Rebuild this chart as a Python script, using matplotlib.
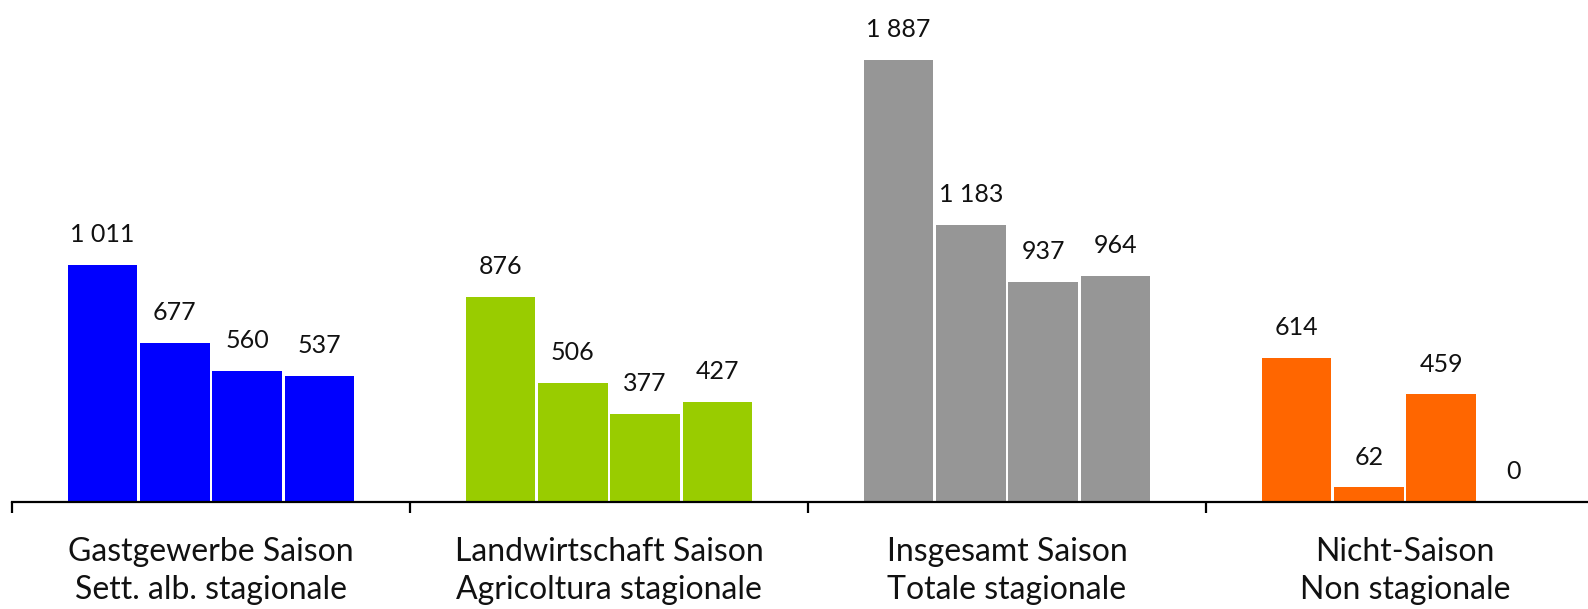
import matplotlib
matplotlib.use("Agg")
import matplotlib.pyplot as plt
import matplotlib.transforms as mtransforms
import numpy as np

categories = ["Gastgewerbe Saison\nSett. alb. stagionale",
              "Landwirtschaft Saison\nAgricoltura stagionale",
              "Insgesamt Saison\nTotale stagionale",
              "Nicht-Saison\nNon stagionale"]
values = [
    [1011, 677, 560, 537],
    [876, 506, 377, 427],
    [1887, 1183, 937, 964],
    [614, 62, 459, 0],
]
colors = ["#0000FF", "#99CC00", "#969696", "#FF6600"]

plt.rcParams['font.family'] = ['Lato', 'DejaVu Sans']

W, H = 1588, 609
fig = plt.figure(figsize=(W / 100, H / 100), dpi=100)
ax_left = 12 / W
ax_bottom = (H - 502) / H
ax = fig.add_axes([ax_left, ax_bottom, 1592 / W, 1 - ax_bottom])
ax.set_xlim(-0.5, 3.5)
ax.set_ylim(0, 2142)

slot = 0.182
bw = 0.175

def fmt(v):
    return f"{v:,}".replace(",", " ")

for i, (grp, col) in enumerate(zip(values, colors)):
    xs = i + (np.arange(4) - 1.5) * slot
    ax.bar(xs, grp, width=bw, color=col, linewidth=0, zorder=2)
    for x, v in zip(xs, grp):
        ax.annotate(fmt(v), (x, v), xytext=(0, 16.5), textcoords="offset points",
                    ha="center", va="baseline", fontsize=18, color="#111111")

for s in ["top", "right", "left"]:
    ax.spines[s].set_visible(False)
ax.spines["bottom"].set_linewidth(1.6)
ax.spines["bottom"].set_zorder(3)
ax.set_yticks([])
ax.set_xticks([-0.5, 0.5, 1.5, 2.5, 3.5])
ax.set_xticklabels([])
ax.tick_params(axis="x", direction="out", length=8, width=1.6, color="black")

trans = mtransforms.blended_transform_factory(ax.transData, fig.transFigure)
for i, c in enumerate(categories):
    fig.text(i, (H - 571) / H, c, transform=trans, ha="center", va="center",
             fontsize=23, linespacing=1.3, color="#111111")

fig.savefig("out.png", dpi=100)
